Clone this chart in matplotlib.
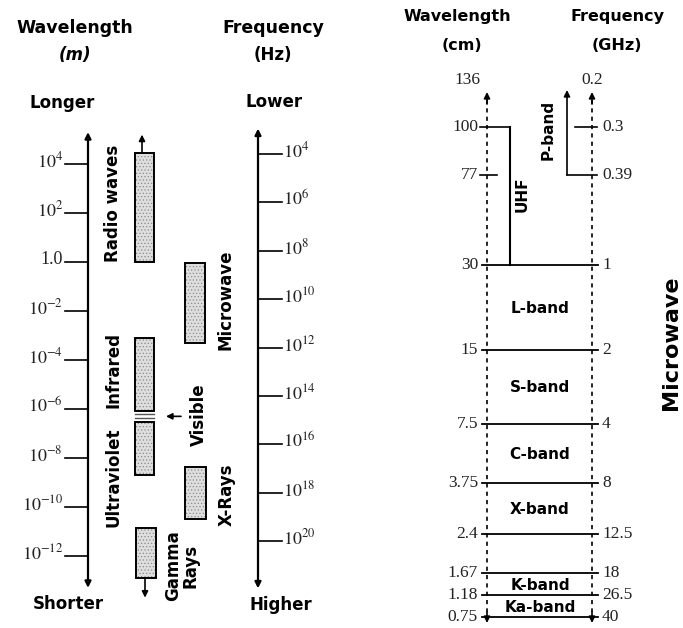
import matplotlib.pyplot as plt
from matplotlib.patches import Rectangle

plt.rcParams['mathtext.fontset'] = 'stix'
plt.rcParams['hatch.linewidth'] = 0.5

W, H = 683, 628
SANS = 'DejaVu Sans'
SERIF = 'Liberation Serif'

# ---------------- left diagram: whole spectrum ----------------
# wavelength axis, log10 of metres
wl_exp = [4, 2, 0, -2, -4, -6, -8, -10, -12]
wl_labels = [r'$10^{4}$', r'$10^{2}$', '1.0', r'$10^{-2}$', r'$10^{-4}$',
             r'$10^{-6}$', r'$10^{-8}$', r'$10^{-10}$', r'$10^{-12}$']
# frequency axis, log10 of Hz
hz_exp = [4, 6, 8, 10, 12, 14, 16, 18, 20]
hz_labels = [r'$10^{%d}$' % e for e in hz_exp]

# spectrum regions as wavelength exponent ranges
regions = ['Radio waves', 'Microwave', 'Infrared', 'Ultraviolet', 'X-Rays', 'Gamma\nRays']
region_lo = [0.0, -3.3, -6.1, -8.7, -10.5, -12.9]
region_hi = [4.45, -0.05, -3.1, -6.55, -8.35, -10.85]
visible_lo, visible_hi = -6.37, -6.2

# ---------------- right diagram: microwave bands ----------------
mw_cm = ['100', '77', '30', '15', '7.5', '3.75', '2.4', '1.67', '1.18', '0.75']
mw_ghz = ['0.3', '0.39', '1', '2', '4', '8', '12.5', '18', '26.5', '40']
bands = ['L-band', 'S-band', 'C-band', 'X-band', 'K-band', 'Ka-band']
band_edges = [(2, 3), (3, 4), (4, 5), (5, 6), (7, 8), (8, 9)]

# layout (pixels)
region_x = [135, 185, 135, 135, 185, 136]
region_w = [19, 20, 19, 19, 21, 20]
region_lab = [(113, 2.4), (225, -1.55), (113, -4.4), (113, -8.8), (227, -9.5), (182, -12.4)]
edge_y = [127, 175, 265, 350, 424, 483, 534, 573, 595, 617]
x_wl, x_hz = 487, 592

fig = plt.figure(figsize=(W / 100, H / 100), dpi=100)

# wavelength-scaled axes: 24.5 px per decade, 10^4 at y=164
px_dec = 24.5
ax_l = fig.add_axes([0, 0, 1, 1])
ax_l.set_xlim(0, W)
ax_l.set_ylim(4 - (H - 164) / px_dec, 4 + 164 / px_dec)
ax_l.axis('off')

# frequency-scaled axes: 24.2 px per decade, 10^4 at y=154
pf_dec = 24.2
ax_f = fig.add_axes([0, 0, 1, 1])
ax_f.set_xlim(0, W)
ax_f.set_ylim(4 + (H - 154) / pf_dec, 4 - 154 / pf_dec)
ax_f.axis('off')

# pixel axes for the band chart and headings
ax = fig.add_axes([0, 0, 1, 1])
ax.set_xlim(0, W)
ax.set_ylim(H, 0)
ax.axis('off')

arrow2 = dict(arrowstyle='<|-|>', color='k', lw=1.6, mutation_scale=9, shrinkA=0, shrinkB=0)
arrow1 = dict(arrowstyle='-|>', color='k', lw=1.2, mutation_scale=9, shrinkA=0, shrinkB=0)

# wavelength axis
ax_l.annotate('', xy=(88, 5.3), xytext=(88, -13.3), arrowprops=arrow2)
for e, lab in zip(wl_exp, wl_labels):
    ax_l.plot([65, 88], [e, e], color='k', lw=1.2)
    ax_l.text(63, e + 0.1, lab, ha='right', va='center', fontsize=13,
              family=SERIF, color='#222222')

# frequency axis
ax_f.annotate('', xy=(258, 2.95), xytext=(258, 21.95), arrowprops=arrow2)
for e, lab in zip(hz_exp, hz_labels):
    ax_f.plot([258, 282], [e, e], color='k', lw=1.2)
    ax_f.text(283, e - 0.1, lab, ha='left', va='center', fontsize=13,
              family=SERIF, color='#222222')

# region boxes
for name, lo, hi, x, w, (lx, ly) in zip(regions, region_lo, region_hi,
                                         region_x, region_w, region_lab):
    ax_l.add_patch(Rectangle((x, lo), w, hi - lo, facecolor='#dedede',
                             edgecolor='#8c8c8c', hatch='.....', lw=0))
    ax_l.add_patch(Rectangle((x, lo), w, hi - lo, fill=False, edgecolor='k', lw=1.4))
    ax_l.text(lx, ly, name, rotation=90, ha='center', va='center', fontsize=12,
              fontweight='bold', family=SANS, linespacing=0.95)

# radio waves go on, gamma rays go on
ax_l.annotate('', xy=(142, 5.2), xytext=(142, region_hi[0]), arrowprops=arrow1)
ax_l.annotate('', xy=(145, -13.7), xytext=(145, region_lo[-1]), arrowprops=arrow1)

# visible: thin double line and pointer
for e in (visible_lo, visible_hi):
    ax_l.plot([135, 154], [e, e], color='#555555', lw=1.0)
ax_l.annotate('', xy=(166, -6.3), xytext=(181, -6.3), arrowprops=arrow1)
ax_l.text(199, -6.25, 'Visible', rotation=90, ha='center', va='center',
          fontsize=12, fontweight='bold', family=SANS)

# headings, left
hd = dict(ha='center', va='center', fontweight='bold', family=SANS)
ax.text(75, 28, 'Wavelength', fontsize=12.5, **hd)
ax.text(75, 55, '(m)', fontsize=12, style='italic', **hd)
ax.text(273, 28, 'Frequency', fontsize=12.5, **hd)
ax.text(273, 55, '(Hz)', fontsize=12, **hd)
ax.text(62, 103, 'Longer', fontsize=12, **hd)
ax.text(274, 102, 'Lower', fontsize=12, **hd)
ax.text(68, 604, 'Shorter', fontsize=12, **hd)
ax.text(281, 605, 'Higher', fontsize=12, **hd)

# headings, right
ax.text(457, 17, 'Wavelength', fontsize=11.5, **hd)
ax.text(462, 45, '(cm)', fontsize=11.5, **hd)
ax.text(617, 17, 'Frequency', fontsize=11.5, **hd)
ax.text(617, 45, '(GHz)', fontsize=11.5, **hd)
ax.text(671, 343, 'Microwave', rotation=90, fontsize=16, **hd)

# dashed wavelength/frequency axes
for x in (x_wl, x_hz):
    ax.plot([x, x], [100, 612], color='k', lw=1.2, ls=(0, (2.5, 2.5)))
    ax.annotate('', xy=(x, 92), xytext=(x, 104), arrowprops=arrow1)
    ax.annotate('', xy=(x, 623), xytext=(x, 612), arrowprops=arrow1)
num = dict(fontsize=12.5, family=SERIF, color='#222222', va='center')
ax.text(467, 80, '136', ha='center', **num)
ax.text(592, 80, '0.2', ha='center', **num)

for i, (cm, ghz, y) in enumerate(zip(mw_cm, mw_ghz, edge_y)):
    if i == 0:
        ax.plot([480, 510], [y, y], color='k', lw=1.2)
        ax.plot([575, 597], [y, y], color='k', lw=1.2)
    elif i == 1:
        ax.plot([480, 497], [y, y], color='k', lw=1.2)
        ax.plot([567, 597], [y, y], color='k', lw=1.2)
    else:
        ax.plot([482, 598], [y, y], color='k', lw=1.3)
    ax.text(478, y, cm, ha='right', **num)
    ax.text(602, y, ghz, ha='left', **num)

# UHF bracket
ax.plot([510, 510], [edge_y[0], edge_y[2]], color='k', lw=1.5)
ax.text(522, 194, 'UHF', rotation=90, ha='center', va='center', fontsize=11,
        fontweight='bold', family=SANS)
# P-band bracket
ax.annotate('', xy=(567, 90), xytext=(567, edge_y[1]), arrowprops=arrow1)
ax.text(548, 130, 'P-band', rotation=90, ha='center', va='center', fontsize=11,
        fontweight='bold', family=SANS)

for name, (a, b) in zip(bands, band_edges):
    ax.text(540, (edge_y[a] + edge_y[b]) / 2 + 1, name, ha='center', va='center',
            fontsize=11, fontweight='bold', family=SANS)

fig.savefig('out.png', dpi=100)
